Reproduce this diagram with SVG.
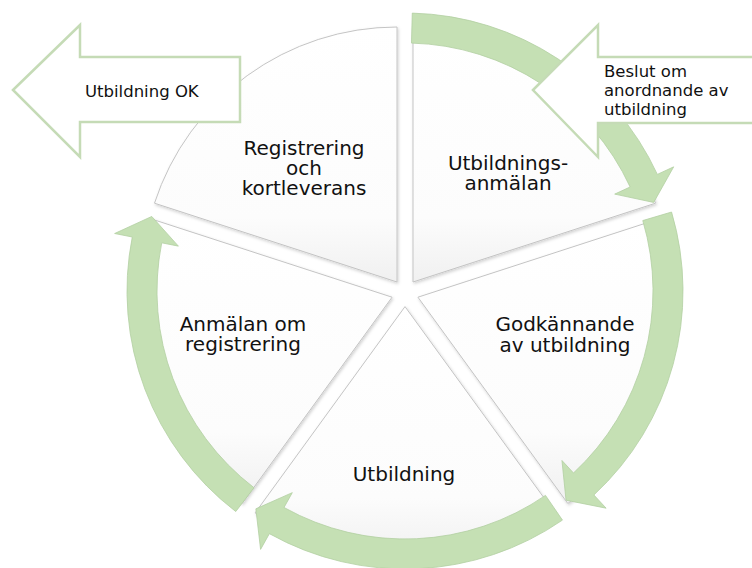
<svg xmlns="http://www.w3.org/2000/svg" width="752" height="568" viewBox="0 0 752 568">
<defs>
<linearGradient id="sg" x1="0" y1="0" x2="0" y2="1">
<stop offset="0" stop-color="#ffffff"/>
<stop offset="0.75" stop-color="#fcfcfc"/>
<stop offset="1" stop-color="#f0f0f0"/>
</linearGradient>
<filter id="sh" x="-10%" y="-10%" width="120%" height="120%">
<feDropShadow dx="1" dy="1.5" stdDeviation="1.5" flood-color="#000" flood-opacity="0.18"/>
</filter>
<style>
.slice{fill:url(#sg);stroke:#c4c4c4;stroke-width:1;filter:url(#sh)}
.ring{fill:#c5e0b4;stroke:#b3cfa2;stroke-width:0.8}
.side{fill:#ffffff;stroke:#c5dbb6;stroke-width:2.5}
.lbl{font-family:"DejaVu Sans","Verdana",sans-serif;font-size:20px;fill:#111;text-anchor:middle}
.sl{font-family:"DejaVu Sans","Verdana",sans-serif;font-size:16.5px;fill:#111}
</style>
</defs>
<g id="slices">
<g id="n-utbildningsanmalan">
<path class="slice" d="M412.99,282 L412.99,27 A255,255 0 0 1 655.51,203.2 Z"/>
<text class="lbl" x="508" y="170">Utbildnings-</text>
<text class="lbl" x="508" y="190">anmälan</text>
</g>
<g id="n-godkannande">
<path class="slice" d="M417.93,297.2 L660.45,218.4 A255,255 0 0 1 567.82,503.5 Z"/>
<text class="lbl" x="565" y="331">Godkännande</text>
<text class="lbl" x="565" y="352">av utbildning</text>
</g>
<g id="n-utbildning">
<path class="slice" d="M405,306.6 L554.89,512.9 A255,255 0 0 1 255.11,512.9 Z"/>
<text class="lbl" x="404" y="481">Utbildning</text>
</g>
<g id="n-anmalan">
<path class="slice" d="M392.07,297.2 L242.18,503.5 A255,255 0 0 1 149.55,218.4 Z"/>
<text class="lbl" x="243" y="331">Anmälan om</text>
<text class="lbl" x="243" y="351">registrering</text>
</g>
<g id="n-registrering">
<path class="slice" d="M397.01,282 L154.49,203.2 A255,255 0 0 1 397.01,27 Z"/>
<text class="lbl" x="304" y="155">Registrering</text>
<text class="lbl" x="304" y="175">och</text>
<text class="lbl" x="304" y="195">kortleverans</text>
</g>
</g>
<g id="connectors">
<path class="ring" d="M412.28,13.1 A278,278 0 0 1 657.36,174.39 L673.7,166.84 L653.7,202.44 L614.7,194.11 L630.13,186.98 A248,248 0 0 0 411.49,43.08 Z"/>
<path class="ring" d="M671.55,212.04 A278,278 0 0 1 593.88,494.98 L606.11,508.18 L566.04,500.19 L561.95,460.49 L573.5,472.97 A248,248 0 0 0 642.79,220.56 Z"/>
<path class="ring" d="M562.46,520.11 A278,278 0 0 1 269.37,533.67 L260.59,549.38 L255.85,508.83 L292.3,492.64 L284.01,507.48 A248,248 0 0 0 545.47,495.38 Z"/>
<path class="ring" d="M235.76,511.55 A278,278 0 0 1 132.29,237 L114.64,233.51 L151.74,216.46 L178.4,246.13 L161.72,242.83 A248,248 0 0 0 254.03,487.75 Z"/>
</g>
<g id="n-utbildning-ok">
<path class="side" d="M13,90 L80,25 L80,57 L240,57 L240,122 L80,122 L80,157 Z"/>
<text class="sl" x="85" y="97">Utbildning OK</text>
</g>
<g id="n-beslut">
<path class="side" d="M533,90 L598,25 L598,57 L762,57 L762,123 L598,123 L598,157 Z"/>
<text class="sl" x="604" y="77">Beslut om</text>
<text class="sl" x="604" y="96">anordnande av</text>
<text class="sl" x="604" y="115">utbildning</text>
</g>
</svg>
